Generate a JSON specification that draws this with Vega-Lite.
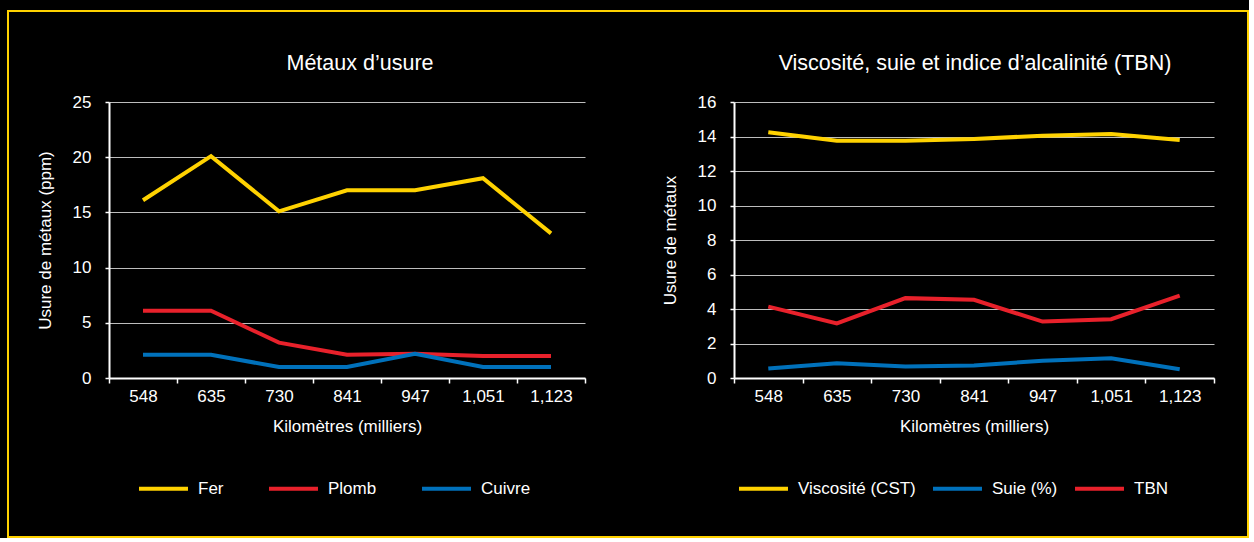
{
  "$schema": "https://vega.github.io/schema/vega-lite/v6.json",
  "background": "#000000",
  "padding": {"left": 7, "top": 10, "right": 0, "bottom": 0},
  "config": {
    "font": "Liberation Sans",
    "view": {"stroke": null},
    "axis": {
      "domainColor": "#FFFFFF", "domainWidth": 2,
      "tickColor": "#FFFFFF", "tickWidth": 1.5,
      "labelColor": "#FFFFFF", "titleColor": "#FFFFFF",
      "labelFontSize": 17, "titleFontSize": 17, "titleFontWeight": "normal",
      "gridColor": "#BDBDBD", "gridWidth": 1.2
    },
    "axisX": {"grid": false, "tickSize": 5, "labelPadding": 5, "titlePadding": 14, "labelAngle": 0},
    "axisY": {"tickSize": 4, "labelPadding": 14, "titlePadding": 18},
    "legend": {
      "orient": "none", "direction": "horizontal", "symbolType": "stroke",
      "symbolStrokeWidth": 4, "symbolSize": 2400, "labelFontSize": 17,
      "labelColor": "#FFFFFF", "padding": 0, "title": null
    },
    "title": {"color": "#FFFFFF", "fontSize": 21.5, "fontWeight": "normal", "anchor": "middle"}
  },
  "datasets": {
    "metals": [
      {"km": "548", "series": "Fer", "value": 16.1},
      {"km": "635", "series": "Fer", "value": 20.1},
      {"km": "730", "series": "Fer", "value": 15.1},
      {"km": "841", "series": "Fer", "value": 17.0},
      {"km": "947", "series": "Fer", "value": 17.0},
      {"km": "1,051", "series": "Fer", "value": 18.1},
      {"km": "1,123", "series": "Fer", "value": 13.1},
      {"km": "548", "series": "Plomb", "value": 6.1},
      {"km": "635", "series": "Plomb", "value": 6.1},
      {"km": "730", "series": "Plomb", "value": 3.2},
      {"km": "841", "series": "Plomb", "value": 2.1},
      {"km": "947", "series": "Plomb", "value": 2.2},
      {"km": "1,051", "series": "Plomb", "value": 2.0},
      {"km": "1,123", "series": "Plomb", "value": 2.0},
      {"km": "548", "series": "Cuivre", "value": 2.1},
      {"km": "635", "series": "Cuivre", "value": 2.1},
      {"km": "730", "series": "Cuivre", "value": 1.0},
      {"km": "841", "series": "Cuivre", "value": 1.0},
      {"km": "947", "series": "Cuivre", "value": 2.2},
      {"km": "1,051", "series": "Cuivre", "value": 1.0},
      {"km": "1,123", "series": "Cuivre", "value": 1.0}
    ],
    "visc": [
      {"km": "548", "series": "Viscosité (CST)", "value": 14.25},
      {"km": "635", "series": "Viscosité (CST)", "value": 13.75},
      {"km": "730", "series": "Viscosité (CST)", "value": 13.75},
      {"km": "841", "series": "Viscosité (CST)", "value": 13.85},
      {"km": "947", "series": "Viscosité (CST)", "value": 14.05},
      {"km": "1,051", "series": "Viscosité (CST)", "value": 14.15},
      {"km": "1,123", "series": "Viscosité (CST)", "value": 13.8},
      {"km": "548", "series": "TBN", "value": 4.14},
      {"km": "635", "series": "TBN", "value": 3.16},
      {"km": "730", "series": "TBN", "value": 4.63},
      {"km": "841", "series": "TBN", "value": 4.53},
      {"km": "947", "series": "TBN", "value": 3.27},
      {"km": "1,051", "series": "TBN", "value": 3.41},
      {"km": "1,123", "series": "TBN", "value": 4.78},
      {"km": "548", "series": "Suie (%)", "value": 0.55},
      {"km": "635", "series": "Suie (%)", "value": 0.86},
      {"km": "730", "series": "Suie (%)", "value": 0.67},
      {"km": "841", "series": "Suie (%)", "value": 0.73},
      {"km": "947", "series": "Suie (%)", "value": 1.0},
      {"km": "1,051", "series": "Suie (%)", "value": 1.14},
      {"km": "1,123", "series": "Suie (%)", "value": 0.51}
    ]
  },
  "spacing": 0,
  "vconcat": [
    {"width": 1242, "height": 2, "data": {"values": []}, "mark": "rect", "encoding": {}, "view": {"fill": "#FFD200", "stroke": null}},
    {
      "spacing": 0,
      "hconcat": [
        {"width": 2, "height": 524, "data": {"values": []}, "mark": "rect", "encoding": {}, "view": {"fill": "#FFD200", "stroke": null}},
        {
          "spacing": 0,
          "vconcat": [
            {"width": 1238, "height": 40, "data": {"values": []}, "mark": "rect", "encoding": {}, "view": {"fill": "#000000", "stroke": null}},
            {
              "spacing": 0,
              "resolve": {"scale": {"x": "independent", "y": "independent", "color": "independent"}, "axis": {"x": "independent", "y": "independent"}, "legend": {"color": "independent"}},
              "hconcat": [
                {"width": 27, "height": 1, "data": {"values": []}, "mark": "rect", "encoding": {}, "view": {"fill": "#000000", "stroke": null}},
                {
                  "title": {"text": "Métaux d’usure", "dx": 13, "offset": 19},
                  "width": 476,
                  "height": 276,
                  "data": {"name": "metals"},
                  "mark": {"type": "line", "strokeWidth": 4},
                  "encoding": {
                    "x": {"field": "km", "type": "ordinal",
                      "scale": {"type": "band", "domain": ["548", "635", "730", "841", "947", "1,051", "1,123"], "paddingInner": 0, "paddingOuter": 0},
                      "axis": {"title": "Kilomètres (milliers)", "tickBand": "extent"}},
                    "y": {"field": "value", "type": "quantitative",
                      "scale": {"domain": [0, 25], "nice": false},
                      "axis": {"title": "Usure de métaux (ppm)", "values": [0, 5, 10, 15, 20, 25]}},
                    "color": {"field": "series", "type": "nominal",
                      "scale": {"domain": ["Fer", "Plomb", "Cuivre"], "range": ["#FFD200", "#E8212B", "#0071BB"]},
                      "legend": {"legendX": 28, "legendY": 360, "labelOffset": 8, "columnPadding": 37}},
                    "order": {"value": null}
                  }
                },
                {"width": 75, "height": 1, "data": {"values": []}, "mark": "rect", "encoding": {}, "view": {"fill": "#000000", "stroke": null}},
                {
                  "title": {"text": "Viscosité, suie et indice d’alcalinité (TBN)", "dx": 1, "offset": 19},
                  "width": 480,
                  "height": 276,
                  "data": {"name": "visc"},
                  "mark": {"type": "line", "strokeWidth": 4},
                  "encoding": {
                    "x": {"field": "km", "type": "ordinal",
                      "scale": {"type": "band", "domain": ["548", "635", "730", "841", "947", "1,051", "1,123"], "paddingInner": 0, "paddingOuter": 0},
                      "axis": {"title": "Kilomètres (milliers)", "tickBand": "extent"}},
                    "y": {"field": "value", "type": "quantitative",
                      "scale": {"domain": [0, 16], "nice": false},
                      "axis": {"title": "Usure de métaux", "values": [0, 2, 4, 6, 8, 10, 12, 14, 16]}},
                    "color": {"field": "series", "type": "nominal",
                      "scale": {"domain": ["Viscosité (CST)", "Suie (%)", "TBN"], "range": ["#FFD200", "#0071BB", "#E8212B"]},
                      "legend": {"legendX": 3, "legendY": 360, "labelOffset": 8, "columnPadding": 9}},
                    "order": {"value": null}
                  }
                }
              ]
            }
          ]
        },
        {"width": 2, "height": 524, "data": {"values": []}, "mark": "rect", "encoding": {}, "view": {"fill": "#FFD200", "stroke": null}}
      ]
    },
    {"width": 1242, "height": 2, "data": {"values": []}, "mark": "rect", "encoding": {}, "view": {"fill": "#FFD200", "stroke": null}}
  ]
}
